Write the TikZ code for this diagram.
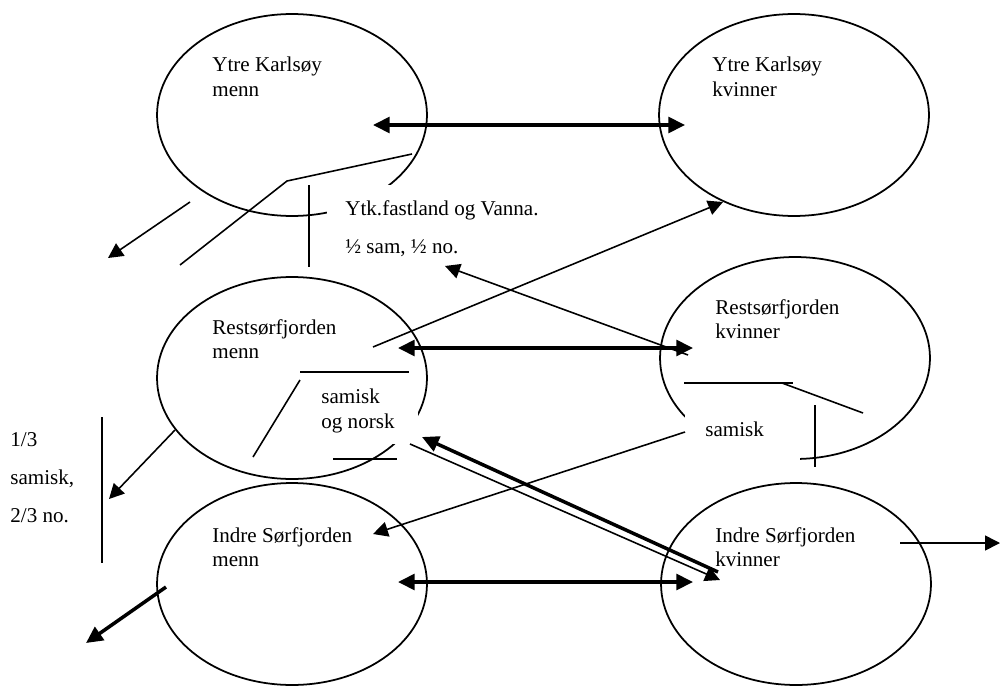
\documentclass[tikz,border=0pt]{standalone}
\usepackage{fontspec}
\setmainfont{Liberation Serif}
\usetikzlibrary{arrows.meta, shapes.geometric, positioning}

\tikzset{
  gruppo/.style={draw, ellipse, line width=1pt, inner sep=0pt, minimum width=5.4cm, minimum height=4.04cm},
  testo/.style={anchor=north west, inner sep=0pt, align=left, font=\fontsize{12}{14}\selectfont},
  testolargo/.style={testo, font=\fontsize{12}{21.6}\selectfont},
  sottile/.style={line width=0.9pt, -{Triangle[length=8.5pt, width=8.5pt]}},
  linea/.style={line width=0.9pt},
  spessa/.style={line width=2pt, -{Triangle[length=9.5pt, width=9pt]}},
  doppia/.style={line width=2pt, {Triangle[length=9.5pt, width=9pt]}-{Triangle[length=9.5pt, width=9pt]}}
}

\begin{document}
\begin{tikzpicture}[x=0.02cm, y=-0.02cm]
    \useasboundingbox (0,0) rectangle (1000,686);

    % I sei gruppi
    \node[gruppo] (ykm) at (292,115) {};
    \node[gruppo] (ykk) at (794,115) {};
    \node[gruppo] (rsm) at (292,378) {};
    \node[gruppo] (rsk) at (795,358) {};
    \node[gruppo] (ism) at (292,584) {};
    \node[gruppo] (isk) at (796,584) {};

    % Caselle di testo bianche (coprono gli archi)
    \fill[white] (327,185) rectangle (565,262);
    \fill[white] (312,380) rectangle (418,444);
    \fill[white] (685,392) rectangle (800,465);

    % Etichette
    \node[testo] (tykm) at (212,57) {Ytre Karlsøy\\menn};
    \node[testo] (tykk) at (712,57) {Ytre Karlsøy\\kvinner};
    \node[testo] (trsm) at (212,319) {Restsørfjorden\\menn};
    \node[testo] (trsk) at (715,299) {Restsørfjorden\\kvinner};
    \node[testo] (tism) at (212,527) {Indre Sørfjorden\\menn};
    \node[testo] (tisk) at (715,527) {Indre Sørfjorden\\kvinner};
    \node[testolargo] (ytk) at (345,200) {Ytk.fastland og Vanna.\\½ sam, ½ no.};
    \node[testo] (son) at (321,389) {samisk\\og norsk};
    \node[testo] (sam) at (705,422) {samisk};
    \node[testolargo] (terzo) at (10,432) {1/3\\samisk,\\2/3 no.};

    % Punti di partenza e di arrivo
    \coordinate (a1) at (373,125);  \coordinate (b1) at (685,125);
    \coordinate (a2) at (398,348);  \coordinate (b2) at (693,348);
    \coordinate (a3) at (398,582);  \coordinate (b3) at (693,582);
    \coordinate (c1) at (190,202);  \coordinate (d1) at (108,258);
    \coordinate (c2) at (373,347);  \coordinate (d2) at (723,202);
    \coordinate (c3) at (688,355);  \coordinate (d3) at (445,266);
    \coordinate (c4) at (718,572);  \coordinate (d4) at (422,437);
    \coordinate (c5) at (410,444);  \coordinate (d5) at (720,580);
    \coordinate (c6) at (685,432);  \coordinate (d6) at (373,534);
    \coordinate (c7) at (175,430);  \coordinate (d7) at (109,499);
    \coordinate (c8) at (166,587);  \coordinate (d8) at (86,643);
    \coordinate (c9) at (900,543);  \coordinate (d9) at (1000,543);

    % Frecce spesse fra uomini e donne
    \draw[doppia] (a1) -- (b1);
    \draw[doppia] (a2) -- (b2);
    \draw[doppia] (a3) -- (b3);

    % Frecce sottili
    \draw[sottile] (c1) -- (d1);
    \draw[sottile] (c2) -- (d2);
    \draw[sottile] (c3) -- (d3);
    \draw[sottile] (c5) -- (d5);
    \draw[sottile] (c6) -- (d6);
    \draw[sottile] (c7) -- (d7);
    \draw[sottile] (c9) -- (d9);
    \draw[spessa] (c4) -- (d4);
    \draw[spessa] (c8) -- (d8);

    % Linee senza punta
    \draw[linea] (180,265) -- (287,181) -- (412,154);
    \draw[linea] (309,185) -- (309,267);
    \draw[linea] (300,372) -- (409,372);
    \draw[linea] (300,380) -- (253,457);
    \draw[linea] (333,459) -- (397,459);
    \draw[linea] (684,383) -- (793,383);
    \draw[linea] (782,383) -- (863,413);
    \draw[linea] (815,405) -- (815,467);
    \draw[linea] (102,417) -- (102,563);

\end{tikzpicture}
\end{document}
